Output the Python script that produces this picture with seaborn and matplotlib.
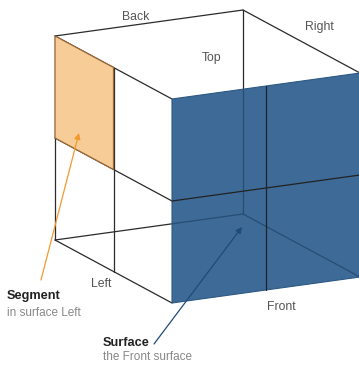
import numpy as np
import pandas as pd
import matplotlib
matplotlib.use('Agg')
from matplotlib import pyplot as plt
from matplotlib.patches import Polygon
import seaborn as sns

sns.set_style('white')
plt.rcParams['font.family'] = ['Liberation Sans', 'DejaVu Sans']

# %%
# box geometry: oblique projection, pixel units
origin = np.array([55.0, 36.0])        # back-top-left corner
width_vec = np.array([188.0, -26.0])
depth_vec = np.array([117.0, 63.0])
height_vec = np.array([0.0, 204.0])

# edges in box coords (u = width, v = depth, z = height, 0..1)
edge_names = ['back_top', 'left_top', 'right_top', 'back_left',
              'left_bottom', 'back_bottom', 'back_right', 'right_bottom',
              'left_mid_v', 'left_mid_h']
edge_start = [(0, 0, 0), (0, 0, 0), (1, 0, 0), (0, 0, 0),
              (0, 0, 1), (0, 0, 1), (1, 0, 0), (1, 0, 1),
              (0, 0.5, 0), (0, 0, 0.5)]
edge_end = [(1, 0, 0), (0, 1, 0), (1, 1, 0), (0, 0, 1),
            (0, 1, 1), (1, 0, 1), (1, 0, 1), (1, 1, 1),
            (0, 0.5, 1), (0, 1, 0.5)]
hidden_edges = ['back_bottom', 'back_right', 'right_bottom']

front_face = [(0, 1, 0), (1, 1, 0), (1, 1, 1), (0, 1, 1)]
front_mid_names = ['front_mid_v', 'front_mid_h']
front_mid_start = [(0.5, 1, 0), (0, 1, 0.5)]
front_mid_end = [(0.5, 1, 1), (1, 1, 0.5)]

segment_face = [(0, 0, 0), (0, 0.5, 0), (0, 0.5, 0.5), (0, 0, 0.5)]

face_labels = ['Back', 'Top', 'Right', 'Left', 'Front']
face_label_pos = [(135.5, 20), (212, 61.5), (319, 30), (101, 287), (281, 310)]


def proj(p):
    u, v, z = p
    return origin + u * width_vec + v * depth_vec + z * height_vec


def edges_frame(names, starts, ends):
    rows = []
    for n, s, e in zip(names, starts, ends):
        for k, p in enumerate([s, e]):
            x, y = proj(p)
            rows.append({'edge': n, 'order': k, 'x': x, 'y': y})
    return pd.DataFrame(rows)


edges = edges_frame(edge_names, edge_start, edge_end)
front_mid = edges_frame(front_mid_names, front_mid_start, front_mid_end)

# %%
fig = plt.figure(figsize=(3.59, 3.67), dpi=100)
ax = fig.add_axes([0, 0, 1, 1])

sns.lineplot(data=edges, x='x', y='y', units='edge', estimator=None,
             sort=False, color='#2b2b2b', lw=0.9, ax=ax, zorder=1)

front_patch = Polygon([proj(p) for p in front_face], closed=True,
                      facecolor='#3d6a97', edgecolor='#2d5883', lw=0.8, zorder=2)
ax.add_patch(front_patch)

# hidden edges seen through the front surface
n0 = len(ax.lines)
sns.lineplot(data=edges[edges['edge'].isin(hidden_edges)], x='x', y='y',
             units='edge', estimator=None, sort=False, color='#274d74',
             lw=0.9, ax=ax, zorder=3)
for ln in ax.lines[n0:]:
    ln.set_clip_path(front_patch)

sns.lineplot(data=front_mid, x='x', y='y', units='edge', estimator=None,
             sort=False, color='#222222', lw=0.9, ax=ax, zorder=4)

ax.add_patch(Polygon([proj(p) for p in segment_face], closed=True,
                     facecolor='#f8cc96', edgecolor='#9a6a38', lw=0.9, zorder=5))

for lab, (x, y) in zip(face_labels, face_label_pos):
    ax.text(x, y, lab, ha='center', va='baseline', fontsize=8.8, color='#555555')

# callouts
ax.annotate('', xy=(79, 133), xytext=(41, 280),
            arrowprops=dict(arrowstyle='-|>', color='#f39a2e', lw=0.9,
                            mutation_scale=9, shrinkA=0, shrinkB=0), zorder=6)
ax.annotate('', xy=(242, 227), xytext=(154, 344),
            arrowprops=dict(arrowstyle='-|>', color='#1f4b78', lw=0.9,
                            mutation_scale=9, shrinkA=0, shrinkB=0), zorder=6)

ax.text(7, 299, 'Segment', fontsize=9.2, fontweight='bold', color='#222222', va='baseline')
ax.text(7, 316, 'in surface Left', fontsize=8.5, color='#888888', va='baseline')
ax.text(103, 346.5, 'Surface', fontsize=9.2, fontweight='bold', color='#222222', va='baseline')
ax.text(103, 359.5, 'the Front surface', fontsize=8.5, color='#888888', va='baseline')

ax.set_xlim(0, 359)
ax.set_ylim(367, 0)
ax.axis('off')
fig.savefig('out.png', dpi=100)
